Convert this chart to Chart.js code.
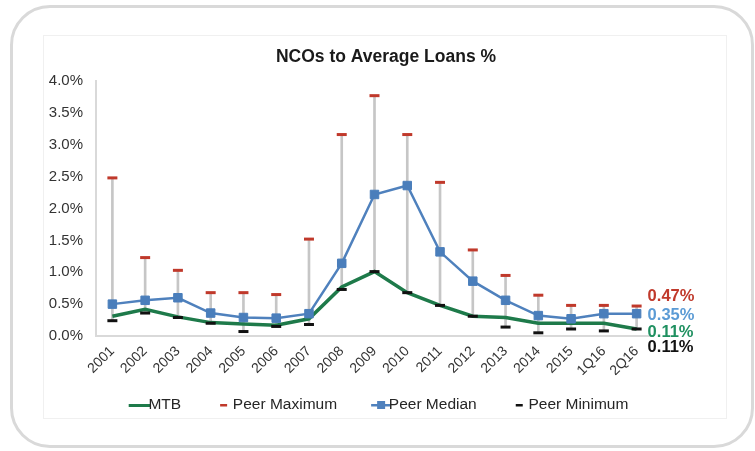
<!DOCTYPE html>
<html>
<head>
<meta charset="utf-8">
<script src="https://cdn.jsdelivr.net/npm/chart.js@4.4.1/dist/chart.umd.min.js"></script>
<style>
  html, body { margin: 0; padding: 0; background: #ffffff; }
  #wrap { position: relative; width: 755px; height: 451px; overflow: hidden; }
  #outer { position: absolute; left: 10px; top: 5px; width: 744px; height: 443px; box-sizing: border-box;
           border: 3px solid #d9d9d9; border-radius: 40px; }
  #inner { position: absolute; left: 43px; top: 35px; width: 684px; height: 384px; box-sizing: border-box;
           border: 1px solid #f0f0f0; }
  #c { position: absolute; left: 0; top: 0; }
</style>
</head>
<body>
<div id="wrap">
  <div id="outer"></div>
  <div id="inner"></div>
  <canvas id="c" width="755" height="451"></canvas>
</div>
<script>
const categories = ['2001','2002','2003','2004','2005','2006','2007','2008','2009','2010','2011','2012','2013','2014','2015','1Q16','2Q16'];
const mtb        = [0.31,0.42,0.30,0.21,0.19,0.17,0.27,0.77,1.01,0.68,0.48,0.31,0.29,0.20,0.20,0.20,0.11];
const peerMax    = [2.48,1.23,1.03,0.68,0.68,0.65,1.52,3.16,3.77,3.16,2.41,1.35,0.95,0.64,0.48,0.48,0.47];
const peerMedian = [0.50,0.56,0.60,0.36,0.29,0.28,0.35,1.14,2.22,2.36,1.32,0.86,0.56,0.32,0.27,0.35,0.35];
const peerMin    = [0.24,0.36,0.29,0.20,0.07,0.15,0.18,0.73,1.01,0.68,0.48,0.31,0.14,0.05,0.11,0.08,0.11];
const yTicks     = [0,0.5,1.0,1.5,2.0,2.5,3.0,3.5,4.0];
const titleText  = 'NCOs to Average Loans %';

const C_MTB = '#1e7a4a', C_MAX = '#c0392b', C_MED = '#4f81bd', C_MIN = '#111111', C_RANGE = '#c6c6c6';
const FONT = "'Liberation Sans', Arial, sans-serif";

function legendIcon(kind, color) {
  const cv = document.createElement('canvas');
  cv.width = 40; cv.height = 12;
  const g = cv.getContext('2d');
  g.fillStyle = color;
  if (kind === 'line') {
    g.fillRect(19, 5, 21, 3);
  } else if (kind === 'dash') {
    g.fillRect(26, 5, 7, 2.5);
  } else if (kind === 'lineSquare') {
    g.fillRect(21, 5, 19, 2.5);
    g.fillRect(27, 2, 8, 8);
  }
  return cv;
}
const icons = {
  'MTB': legendIcon('line', C_MTB),
  'Peer Maximum': legendIcon('dash', C_MAX),
  'Peer Median': legendIcon('lineSquare', C_MED),
  'Peer Minimum': legendIcon('dash', C_MIN)
};

const shiftBoxes = {
  id: 'shiftBoxes',
  afterLayout(chart) {
    if (chart.titleBlock) { chart.titleBlock.left += 39.5; chart.titleBlock.right += 39.5; }
    if (chart.legend) { chart.legend.left += 27; chart.legend.right += 27; }
  }
};

const endLabels = {
  id: 'endLabels',
  afterDatasetsDraw(chart) {
    const ctx = chart.ctx;
    const specs = [
      {ds: 1, arr: peerMax, color: C_MAX, dy: -10},
      {ds: 2, arr: peerMedian, color: '#5b9bd5', dy: 2},
      {ds: 0, arr: mtb, color: '#1f9060', dy: 3},
      {ds: 3, arr: peerMin, color: '#111111', dy: 18}
    ];
    ctx.save();
    ctx.font = "bold 16.5px " + FONT;
    ctx.textAlign = 'left';
    ctx.textBaseline = 'middle';
    specs.forEach(s => {
      const meta = chart.getDatasetMeta(s.ds);
      const pt = meta.data[meta.data.length - 1];
      ctx.fillStyle = s.color;
      ctx.fillText(s.arr[s.arr.length - 1].toFixed(2) + '%', pt.x + 11, pt.y + s.dy);
    });
    ctx.restore();
  }
};

new Chart(document.getElementById('c'), {
  data: {
    labels: categories,
    datasets: [
      { type: 'line', label: 'MTB', data: mtb, borderColor: C_MTB, backgroundColor: C_MTB,
        borderWidth: 3.5, pointRadius: 0, tension: 0, order: 2 },
      { type: 'line', label: 'Peer Maximum', data: peerMax, showLine: false, pointStyle: 'line',
        pointRadius: 5, pointBorderWidth: 3, pointBorderColor: C_MAX, borderColor: C_MAX, backgroundColor: C_MAX, order: 1 },
      { type: 'line', label: 'Peer Median', data: peerMedian, borderColor: C_MED, backgroundColor: '#4a7ebb',
        borderWidth: 2.5, pointStyle: 'rect', pointRadius: 6, pointBorderWidth: 1, pointBorderColor: '#4a7ebb',
        pointBackgroundColor: '#4a7ebb', tension: 0, order: 1 },
      { type: 'line', label: 'Peer Minimum', data: peerMin, showLine: false, pointStyle: 'line',
        pointRadius: 5, pointBorderWidth: 3, pointBorderColor: C_MIN, borderColor: C_MIN, backgroundColor: C_MIN, order: 0 },
      { type: 'bar', label: 'range', data: categories.map((c, i) => [peerMin[i], peerMax[i]]),
        backgroundColor: C_RANGE, barThickness: 2, order: 5 }
    ]
  },
  options: {
    responsive: false,
    animation: false,
    devicePixelRatio: 1,
    layout: { padding: { left: 40, right: 102, top: 0, bottom: 28.25 } },
    plugins: {
      tooltip: { enabled: false },
      title: { display: true, text: titleText, color: '#1a1a1a',
               font: { family: FONT, size: 17.5, weight: 'bold', lineHeight: 1.2 },
               padding: { top: 46.5, bottom: 13.5 } },
      legend: {
        position: 'bottom',
        labels: {
          usePointStyle: true, pointStyleWidth: 22, padding: 22,
          color: '#262626', font: { family: FONT, size: 15.5 },
          filter: item => item.text !== 'range',
          sort: (a, b) => a.datasetIndex - b.datasetIndex,
          generateLabels(chart) {
            const base = Chart.defaults.plugins.legend.labels.generateLabels(chart);
            return base.map(it => Object.assign(it, { pointStyle: icons[it.text] || it.pointStyle }));
          }
        }
      }
    },
    scales: {
      x: {
        offset: true,
        grid: { display: false, drawTicks: false },
        border: { display: true, color: '#d9d9d9', width: 2 },
        ticks: { minRotation: 45, maxRotation: 45, autoSkip: false, padding: 7,
                 color: '#333333', font: { family: FONT, size: 14 } },
        afterFit(scale) { scale.height = 39.25; }
      },
      y: {
        min: 0, max: 4,
        afterBuildTicks(scale) { scale.ticks = yTicks.map(v => ({ value: v })); },
        grid: { display: false, drawTicks: false },
        border: { display: true, color: '#d9d9d9', width: 2 },
        ticks: { padding: 13, color: '#333333', font: { family: FONT, size: 15 },
                 callback: v => Number(v).toFixed(1) + '%' },
        afterFit(scale) { scale.width = 56; }
      }
    }
  },
  plugins: [shiftBoxes, endLabels]
});
</script>
</body>
</html>
